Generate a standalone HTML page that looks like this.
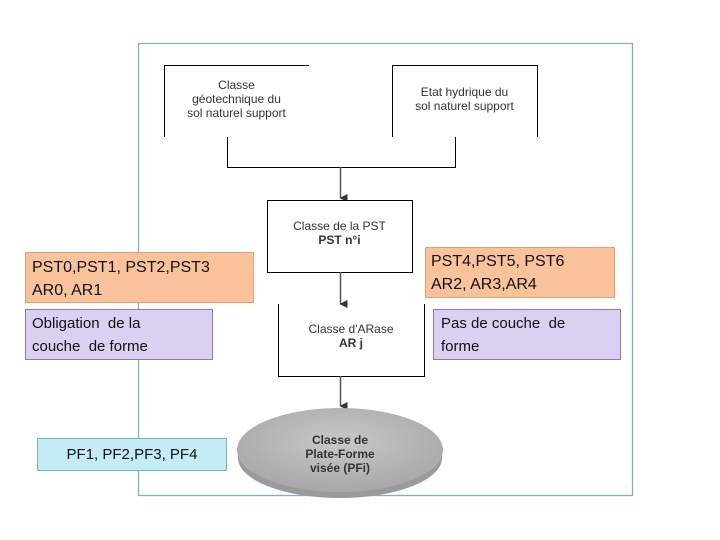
<!DOCTYPE html>
<html><head><meta charset="utf-8"><style>
html,body{margin:0;padding:0;background:#fff;}
body{width:720px;height:540px;position:relative;overflow:hidden;font-family:"Liberation Sans",sans-serif;}
.a{position:absolute;}
.t{font-size:12px;color:#333;text-align:center;line-height:14px;}
.cal{font-family:"Liberation Sans",sans-serif;font-size:16px;color:#111;line-height:23px;}
</style></head><body>
<svg class="a" style="left:0;top:0" width="720" height="540">
<defs><marker id="ar" markerWidth="8" markerHeight="8" refX="4" refY="7" orient="auto" markerUnits="userSpaceOnUse"><path d="M0,0 L8,0 L4,8 z" fill="#333"/></marker>
<radialGradient id="eg" cx="50%" cy="40%" r="60%"><stop offset="0" stop-color="#c8c8c8"/><stop offset="1" stop-color="#a8a8a8"/></radialGradient></defs>
<rect x="138.5" y="43.5" width="494" height="452" fill="none" stroke="#7fb3bf" stroke-width="1.3"/>
<path d="M164.5,137 V65.5 H309" fill="none" stroke="#000"/>
<path d="M392.5,137 V65.5 H537.5 V137" fill="none" stroke="#000"/>
<path d="M227.5,137 V167.5 H455.5 V137" fill="none" stroke="#000"/>
<line x1="340.5" y1="167" x2="340.5" y2="198" stroke="#555" stroke-width="1.5" marker-end="url(#ar)"/>
<rect x="267.5" y="200.5" width="145" height="72" fill="#fff" stroke="#000"/>
<line x1="340.5" y1="272" x2="340.5" y2="304" stroke="#555" stroke-width="1.5" marker-end="url(#ar)"/>
<path d="M278.5,304 V376.5 H424.5 V304" fill="none" stroke="#000"/>
<line x1="340.5" y1="376" x2="340.5" y2="406" stroke="#555" stroke-width="1.5" marker-end="url(#ar)"/>
<ellipse cx="340" cy="458" rx="102" ry="40" fill="#9a9a9a"/>
<ellipse cx="340" cy="450" rx="103" ry="42" fill="url(#eg)"/>
<rect x="25.5" y="252.5" width="228" height="50" fill="#f9c29b" stroke="#e0a070"/>
<rect x="25.5" y="309.5" width="187" height="50" fill="#d9d0f2" stroke="#8a7ab0"/>
<rect x="425.5" y="247.5" width="189" height="50" fill="#f9c29b" stroke="#e0a070"/>
<rect x="433.5" y="309.5" width="187" height="50" fill="#d9d0f2" stroke="#8a7ab0"/>
<rect x="37.5" y="438.5" width="189" height="32" fill="#c3ecf7" stroke="#6fb6c8"/>
</svg>
<div class="a t" style="left:164px;top:78px;width:145px;">Classe<br>géotechnique du<br>sol naturel support</div>
<div class="a t" style="left:392px;top:85px;width:145px;">Etat hydrique du<br>sol naturel support</div>
<div class="a t" style="left:267px;top:219px;width:145px;">Classe de la PST<br><b>PST n°i</b></div>
<div class="a t" style="left:280px;top:322px;width:142px;">Classe d'ARase<br><b>AR j</b></div>
<div class="a t" style="left:270px;top:433px;width:140px;font-weight:bold;">Classe de<br>Plate-Forme<br>visée (PFi)</div>
<div class="a cal" style="left:32px;top:256px;">PST0,PST1, PST2,PST3<br>AR0, AR1</div>
<div class="a cal" style="left:32px;top:312px;font-size:15px;">Obligation&nbsp; de la<br>couche&nbsp; de forme</div>
<div class="a cal" style="left:431px;top:250px;">PST4,PST5, PST6<br>AR2, AR3,AR4</div>
<div class="a cal" style="left:441px;top:312px;font-size:15px;">Pas de couche&nbsp; de<br>forme</div>
<div class="a cal" style="left:37px;top:443px;width:190px;text-align:center;font-size:15px;">PF1, PF2,PF3, PF4</div>
</body></html>
